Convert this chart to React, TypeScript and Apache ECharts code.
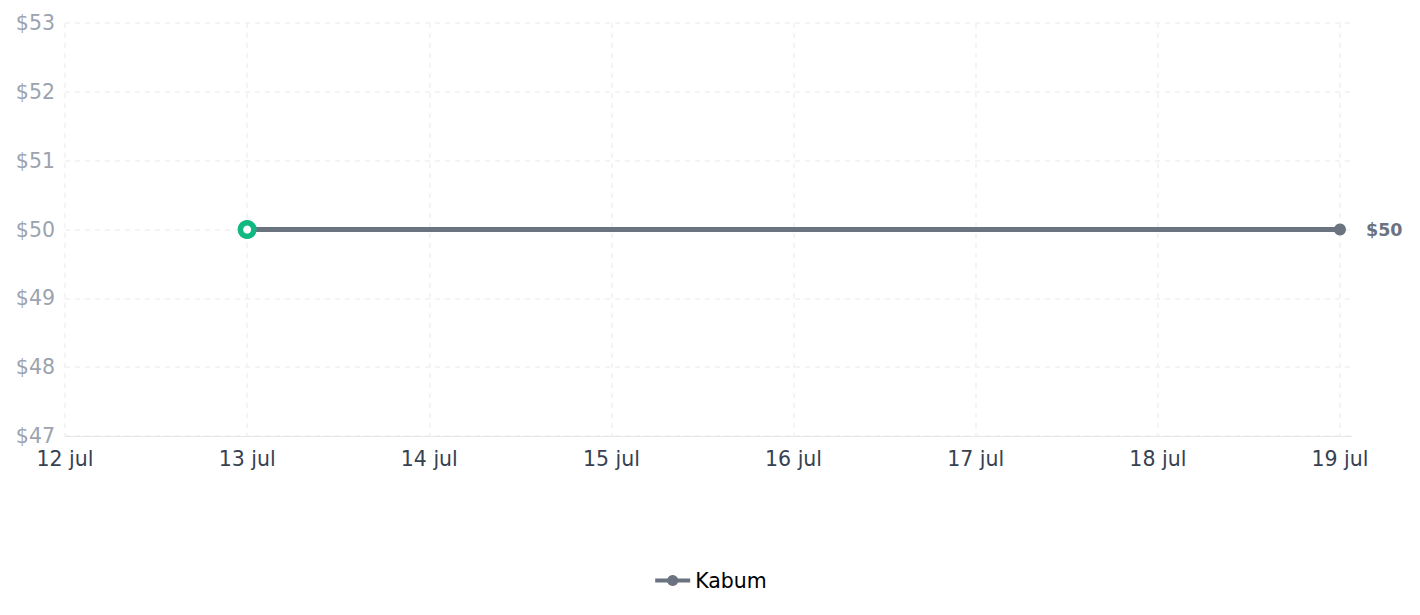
import React, { useEffect, useRef } from "react";
import * as echarts from "echarts";

const dayLabels = ["12 jul", "13 jul", "14 jul", "15 jul", "16 jul", "17 jul", "18 jul", "19 jul"];
const seriesName = "Kabum";
const pointDays = [1, 7];
const pointPrices = [50, 50];
const yTicks = [47, 48, 49, 50, 51, 52, 53];

const FONT = "DejaVu Sans";

export default function App() {
  const ref = useRef<HTMLDivElement>(null);
  useEffect(() => {
    if (!ref.current) return;
    const chart = echarts.init(ref.current, undefined, { renderer: "svg" });
    const data = pointDays.map((d, i) => {
      const base: any = { value: [d, pointPrices[i]] };
      if (i === 0) {
        base.symbol = "circle";
        base.symbolSize = 13.5;
        base.itemStyle = { color: "#ffffff", borderColor: "#10b981", borderWidth: 5.5 };
      }
      if (i === pointDays.length - 1) {
        base.label = {
          show: true,
          position: "right",
          distance: 20,
          formatter: "${@[1]}",
          color: "#6b7280",
          fontWeight: "bold",
          fontSize: 17.5,
          fontFamily: FONT,
        };
      }
      return base;
    });
    chart.setOption({
      animation: false,
      textStyle: { fontFamily: FONT },
      grid: { left: 65, right: 68, top: 23, bottom: 179, containLabel: false },
      legend: {
        bottom: 19,
        left: "center",
        itemWidth: 35,
        itemHeight: 14,
        itemGap: 10,
        lineStyle: { width: 4 },
        textStyle: { color: "#000", fontSize: 20.5, fontFamily: FONT },
        data: [seriesName],
      },
      xAxis: {
        type: "value",
        min: 0,
        max: 7.066,
        interval: 1,
        axisLine: { show: true, lineStyle: { color: "#e5e7eb", width: 1 } },
        axisTick: { show: false },
        axisLabel: {
          color: "#374151",
          fontSize: 20.5,
          margin: 12,
          showMaxLabel: false,
          formatter: (v: number) => (Number.isInteger(v) ? dayLabels[v] ?? "" : ""),
        },
        splitLine: { show: true, showMaxLine: false, lineStyle: { color: "#f1f1f3", width: 1.5, type: [5, 5] } },
      },
      yAxis: {
        type: "value",
        min: yTicks[0],
        max: yTicks[yTicks.length - 1],
        interval: 1,
        axisLine: { show: false },
        axisTick: { show: false },
        axisLabel: { color: "#9ca3af", fontSize: 20.5, margin: 10, formatter: (v: number) => "$" + v },
        splitLine: { show: true, lineStyle: { color: "#f1f1f3", width: 1.5, type: [5, 5] } },
      },
      series: [
        {
          name: seriesName,
          type: "line",
          data,
          symbol: "circle",
          symbolSize: 12,
          showAllSymbol: true,
          lineStyle: { color: "#6b7280", width: 5 },
          itemStyle: { color: "#6b7280" },
          z: 3,
        },
      ],
    });
    return () => chart.dispose();
  }, []);
  return <div ref={ref} style={{ position: "absolute", left: 0, top: 0, width: 1420, height: 615 }} />;
}
